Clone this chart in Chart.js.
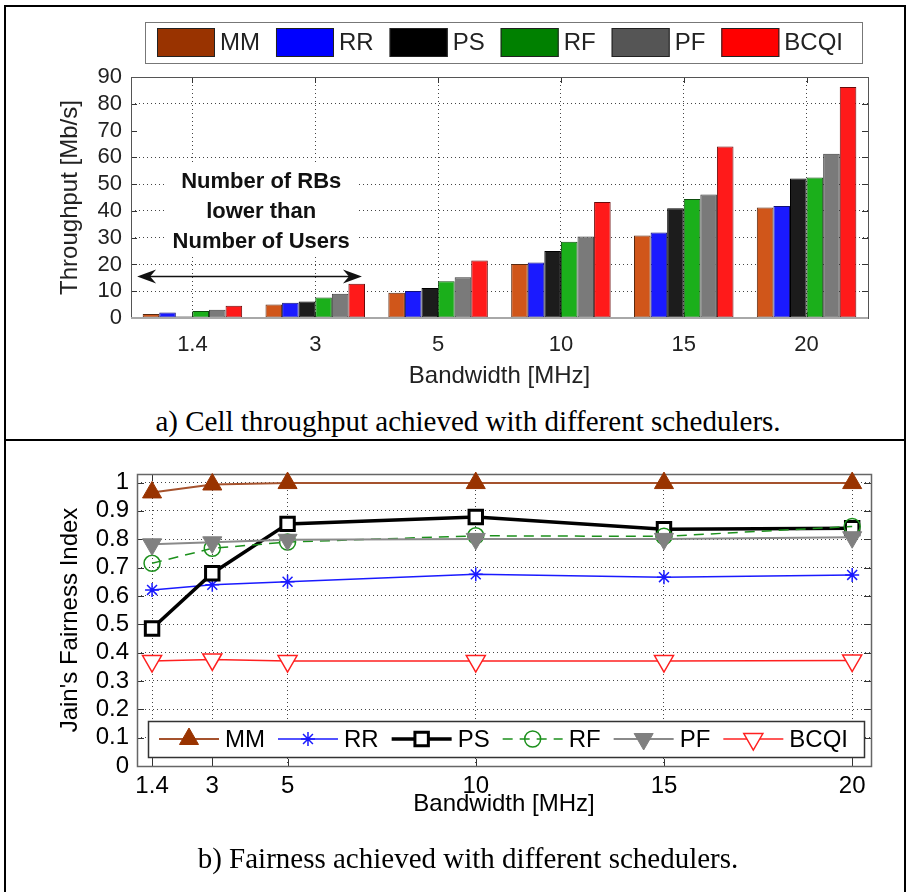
<!DOCTYPE html>
<html>
<head>
<meta charset="utf-8">
<title>Scheduler throughput and fairness</title>
<script src="https://cdn.jsdelivr.net/npm/chart.js@4.4.1/dist/chart.umd.min.js"></script>
<style>
  body { margin: 0; background: #fff; width: 914px; height: 892px; overflow: hidden; position: relative; }
  .frame { position: absolute; left: 4px; top: 5px; width: 902px; height: 900px; border: 2px solid #000; border-bottom: 0; box-sizing: border-box; }
  .divider { position: absolute; left: 4px; top: 439px; width: 902px; height: 2px; background: #000; }
  canvas { position: absolute; left: 0; }
  #throughput { top: 0; }
  #fairness { top: 445px; }
  .caption { position: absolute; left: 0; width: 936px; text-align: center; font-family: 'Liberation Serif', 'Times New Roman', serif; font-size: 29px; color: #000; line-height: 34px; }
</style>
</head>
<body>
<div class="frame"></div>
<div class="divider"></div>
<canvas id="throughput" width="914" height="400"></canvas>
<div class="caption" style="top:404px">a) Cell throughput achieved with different schedulers.</div>
<canvas id="fairness" width="914" height="447"></canvas>
<div class="caption" style="top:841px">b) Fairness achieved with different schedulers.</div>

<script>
const FONT = "'Liberation Sans', Arial, sans-serif";

// bandwidth settings [MHz]
const bandwidthLabels = ['1.4', '3', '5', '10', '15', '20'];
const bandwidthValues = [1.4, 3, 5, 10, 15, 20];
const schedulers = ['MM', 'RR', 'PS', 'RF', 'PF', 'BCQI'];

// cell throughput [Mb/s]
const mmThroughput   = [1.5, 5.0, 9.4, 20.2, 30.8, 41.3];
const rrThroughput   = [2.1, 5.7, 10.1, 20.7, 31.9, 41.8];
const psThroughput   = [0.6, 6.2, 11.2, 25.0, 41.0, 52.1];
const rfThroughput   = [2.6, 7.7, 13.7, 28.5, 44.4, 52.5];
const pfThroughput   = [3.1, 9.1, 15.2, 30.4, 46.1, 61.3];
const bcqiThroughput = [4.6, 12.8, 21.5, 43.3, 64.0, 86.3];
const throughputTicks = [0, 10, 20, 30, 40, 50, 60, 70, 80, 90];

// Jain's fairness index
const mmFairness   = [0.965, 0.993, 0.998, 0.998, 0.998, 0.998];
const rrFairness   = [0.621, 0.639, 0.650, 0.676, 0.666, 0.674];
const psFairness   = [0.485, 0.680, 0.854, 0.878, 0.835, 0.839];
const rfFairness   = [0.715, 0.768, 0.790, 0.812, 0.810, 0.845];
const pfFairness   = [0.782, 0.789, 0.798, 0.801, 0.801, 0.807];
const bcqiFairness = [0.370, 0.376, 0.370, 0.370, 0.370, 0.372];
const fairnessTicks = [0, 0.1, 0.2, 0.3, 0.4, 0.5, 0.6, 0.7, 0.8, 0.9, 1];

const noteLines = ['Number of RBs', 'lower than', 'Number of Users'];

// bar fills / legend swatches (the legend uses the pure palette)
const barColors    = ['#d0561a', '#1a1aff', '#1c1c1c', '#1baf1b', '#7a7a7a', '#ff1a1a'];
const barEdges     = ['#5a2a10', '#10107a', '#000000', '#0d4d0d', '#3a3a3a', '#6a0a0a'];
const swatchColors = ['#993300', '#0000ff', '#000000', '#008000', '#555555', '#ff0000'];

const dotted = '#444';

// box around the plot with MATLAB-style inward ticks
function frameTicks(opts) {
  return {
    id: 'frameTicks',
    beforeDatasetsDraw(chart) {
      const { ctx, chartArea: a, scales: { x, y } } = chart;
      ctx.save();
      ctx.strokeStyle = opts.tickColor;
      ctx.lineWidth = 1;
      ctx.beginPath();
      x.ticks.forEach((t, i) => {
        const px = Math.round(x.getPixelForTick(i)) + 0.5;
        ctx.moveTo(px, a.bottom); ctx.lineTo(px, a.bottom - opts.length);
        ctx.moveTo(px, a.top); ctx.lineTo(px, a.top + opts.length);
      });
      y.ticks.forEach((t, i) => {
        const py = Math.round(y.getPixelForTick(i)) + 0.5;
        ctx.moveTo(a.left, py); ctx.lineTo(a.left + opts.length, py);
        ctx.moveTo(a.right, py); ctx.lineTo(a.right - opts.length, py);
      });
      ctx.stroke();
      ctx.strokeStyle = opts.color;
      ctx.lineWidth = opts.width;
      ctx.strokeRect(Math.round(a.left) + 0.5, Math.round(a.top) + 0.5, Math.round(a.width), Math.round(a.height));
      ctx.restore();
    },
    afterDatasetsDraw(chart) {
      if (!opts.baseColor) return;
      const { ctx, chartArea: a } = chart;
      ctx.save();
      ctx.strokeStyle = opts.baseColor;
      ctx.lineWidth = 2;
      ctx.beginPath();
      ctx.moveTo(a.left, a.bottom); ctx.lineTo(a.right, a.bottom);
      ctx.stroke();
      ctx.restore();
    }
  };
}

// boxed legend drawn in one row
function boxLegend(cfg) {
  return {
    id: 'boxLegend',
    afterDraw(chart) {
      const { ctx } = chart;
      ctx.save();
      ctx.fillStyle = '#fff';
      ctx.fillRect(cfg.left, cfg.top, cfg.width, cfg.height);
      ctx.strokeStyle = cfg.borderColor;
      ctx.lineWidth = cfg.borderWidth;
      ctx.strokeRect(cfg.left + 0.5, cfg.top + 0.5, cfg.width, cfg.height);
      ctx.font = cfg.fontSize + 'px ' + FONT;
      ctx.textBaseline = 'middle';
      const cy = cfg.top + cfg.height / 2;
      let x = cfg.startX;
      chart.data.datasets.forEach((ds, i) => {
        if (cfg.kind === 'swatch') {
          ctx.fillStyle = swatchColors[i];
          ctx.fillRect(x, cy - cfg.sampleH / 2, cfg.sampleW, cfg.sampleH);
          ctx.strokeStyle = '#222';
          ctx.lineWidth = 1;
          ctx.strokeRect(x + 0.5, cy - cfg.sampleH / 2 + 0.5, cfg.sampleW - 1, cfg.sampleH - 1);
        } else {
          ctx.save();
          ctx.strokeStyle = ds.borderColor;
          ctx.lineWidth = ds.borderWidth;
          ctx.setLineDash(ds.borderDash || []);
          ctx.beginPath();
          ctx.moveTo(x, cy); ctx.lineTo(x + cfg.sampleW, cy);
          ctx.stroke();
          ctx.setLineDash([]);
          ctx.fillStyle = ds.pointBackgroundColor;
          ctx.strokeStyle = ds.pointBorderColor;
          ctx.lineWidth = ds.pointBorderWidth;
          Chart.helpers.drawPoint(ctx, {
            pointStyle: ds.pointStyle,
            rotation: ds.pointRotation || 0,
            radius: ds.pointRadius,
            borderWidth: ds.pointBorderWidth
          }, x + cfg.sampleW / 2, cy);
          ctx.restore();
        }
        const tx = x + cfg.sampleW + cfg.textGap;
        ctx.fillStyle = cfg.textColor;
        ctx.fillText(ds.label, tx, cy + 1);
        x = tx + ctx.measureText(ds.label).width + cfg.itemGap;
      });
      ctx.restore();
    }
  };
}

// note about the small bandwidths plus its double arrow
const rbNote = {
  id: 'rbNote',
  afterDatasetsDraw(chart) {
    const { ctx, scales: { x, y } } = chart;
    const cx = x.getPixelForValue(0.56);
    const top = y.getPixelForValue(50.7);
    ctx.save();
    ctx.font = 'bold 22px ' + FONT;
    const w = Math.max(...noteLines.map(t => ctx.measureText(t).width));
    ctx.fillStyle = '#fff';
    ctx.fillRect(cx - w / 2 - 8, top - 18, w + 16, 90);
    ctx.fillStyle = '#111';
    ctx.textAlign = 'center';
    ctx.textBaseline = 'middle';
    noteLines.forEach((t, i) => ctx.fillText(t, cx, top + i * 30));

    const ay = Math.round(y.getPixelForValue(15.8)) + 0.5;
    const x0 = x.getPixelForValue(-0.45);
    const x1 = x.getPixelForValue(1.38);
    ctx.strokeStyle = '#111';
    ctx.lineWidth = 1.5;
    ctx.beginPath();
    ctx.moveTo(x0 + 8, ay); ctx.lineTo(x1 - 8, ay);
    ctx.stroke();
    ctx.beginPath();
    ctx.moveTo(x0, ay); ctx.lineTo(x0 + 19, ay - 7); ctx.lineTo(x0 + 13, ay); ctx.lineTo(x0 + 19, ay + 7); ctx.closePath();
    ctx.moveTo(x1, ay); ctx.lineTo(x1 - 19, ay - 7); ctx.lineTo(x1 - 13, ay); ctx.lineTo(x1 - 19, ay + 7); ctx.closePath();
    ctx.fill();
    ctx.restore();
  }
};

// a) cell throughput bars
const throughputSeries = [mmThroughput, rrThroughput, psThroughput, rfThroughput, pfThroughput, bcqiThroughput];

new Chart(document.getElementById('throughput'), {
  type: 'bar',
  data: {
    labels: bandwidthLabels,
    datasets: schedulers.map((name, i) => ({
      label: name,
      data: throughputSeries[i],
      backgroundColor: barColors[i],
      borderColor: barEdges[i],
      borderWidth: 1,
      borderSkipped: false,
      barPercentage: 1,
      categoryPercentage: 0.81
    }))
  },
  options: {
    responsive: false,
    animation: false,
    layout: { padding: { top: 77, right: 46, bottom: 0, left: 0 } },
    plugins: { legend: { display: false }, tooltip: { enabled: false } },
    scales: {
      x: {
        grid: { color: dotted, lineWidth: 1, drawTicks: false, offset: false },
        border: { display: false, dash: [1, 3] },
        ticks: { font: { family: FONT, size: 22 }, color: '#222', padding: 14, maxRotation: 0, autoSkip: false },
        title: { display: true, text: 'Bandwidth [MHz]', font: { family: FONT, size: 24 }, color: '#222', padding: { top: 0, bottom: 9 } },
        afterFit: s => { s.height = 82; }
      },
      y: {
        min: 0,
        max: 90,
        afterBuildTicks: s => { s.ticks = throughputTicks.map(v => ({ value: v })); },
        grid: { color: c => (c.tick && c.tick.value === 70 ? 'rgba(0,0,0,0)' : dotted), lineWidth: 1, drawTicks: false },
        border: { display: false, dash: [1, 3] },
        ticks: { font: { family: FONT, size: 22 }, color: '#222', padding: 9, autoSkip: false },
        title: { display: true, text: 'Throughput [Mb/s]', font: { family: FONT, size: 24 }, color: '#222', padding: { top: 56, bottom: 0 } },
        afterFit: s => { s.width = 131; }
      }
    }
  },
  plugins: [
    frameTicks({ color: '#555', width: 1, tickColor: '#333', length: 6, baseColor: '#a8a8a8' }),
    rbNote,
    boxLegend({
      kind: 'swatch', left: 145, top: 22, width: 717, height: 41,
      startX: 157, sampleW: 58, sampleH: 29, textGap: 5, itemGap: 16,
      fontSize: 24, textColor: '#222', borderColor: '#777', borderWidth: 1
    })
  ]
});

// b) Jain's fairness lines
const fairnessSeries = [mmFairness, rrFairness, psFairness, rfFairness, pfFairness, bcqiFairness];
const lineLooks = [
  { borderColor: '#a5522d', borderWidth: 2,   pointStyle: 'triangle', pointRadius: 11, pointRotation: 0,   pointBackgroundColor: '#993300', pointBorderColor: '#993300', pointBorderWidth: 1 },
  { borderColor: '#1a1aff', borderWidth: 1.5, pointStyle: 'star',     pointRadius: 7,  pointRotation: 0,   pointBackgroundColor: '#1a1aff', pointBorderColor: '#1a1aff', pointBorderWidth: 1.5 },
  { borderColor: '#000000', borderWidth: 3.5, pointStyle: 'rect',     pointRadius: 9.5, pointRotation: 0,  pointBackgroundColor: '#ffffff', pointBorderColor: '#000000', pointBorderWidth: 3 },
  { borderColor: '#1c901c', borderWidth: 1.5, pointStyle: 'circle',   pointRadius: 8,  pointRotation: 0,   pointBackgroundColor: 'rgba(0,0,0,0)', pointBorderColor: '#1c901c', pointBorderWidth: 1.5, borderDash: [10, 7] },
  { borderColor: '#8a8a8a', borderWidth: 2,   pointStyle: 'triangle', pointRadius: 11, pointRotation: 180, pointBackgroundColor: '#808080', pointBorderColor: '#808080', pointBorderWidth: 1 },
  { borderColor: '#ff2020', borderWidth: 1.5, pointStyle: 'triangle', pointRadius: 11, pointRotation: 180, pointBackgroundColor: '#ffffff', pointBorderColor: '#ff2020', pointBorderWidth: 1.5 }
];

new Chart(document.getElementById('fairness'), {
  type: 'line',
  data: {
    datasets: schedulers.map((name, i) => Object.assign({
      label: name,
      data: bandwidthValues.map((bw, k) => ({ x: bw, y: fairnessSeries[i][k] })),
      tension: 0,
      clip: false,
      order: schedulers.length - i
    }, lineLooks[i]))
  },
  options: {
    responsive: false,
    animation: false,
    layout: { padding: { top: 29, right: 43, bottom: 67, left: 0 } },
    plugins: { legend: { display: false }, tooltip: { enabled: false } },
    scales: {
      x: {
        type: 'linear',
        min: 1,
        max: 20.5,
        afterBuildTicks: s => { s.ticks = bandwidthValues.map(v => ({ value: v })); },
        grid: { color: dotted, lineWidth: 1, drawTicks: false },
        border: { display: false, dash: [1, 3] },
        ticks: { font: { family: FONT, size: 24 }, color: '#000', padding: 6, autoSkip: false, maxRotation: 0, callback: v => String(v) },
        title: { display: true, text: 'Bandwidth [MHz]', font: { family: FONT, size: 24 }, color: '#000', padding: { top: 0, bottom: 6 } },
        afterFit: s => { s.height = 59; }
      },
      y: {
        min: 0,
        max: 1.03,
        afterBuildTicks: s => { s.ticks = fairnessTicks.map(v => ({ value: v })); },
        grid: { color: dotted, lineWidth: 1, drawTicks: false },
        border: { display: false, dash: [1, 3] },
        ticks: { font: { family: FONT, size: 24 }, color: '#000', padding: 8, autoSkip: false, callback: v => String(+v.toFixed(1)) },
        title: { display: true, text: "Jain's Fairness Index", font: { family: FONT, size: 24 }, color: '#000', padding: { top: 56, bottom: 0 } },
        afterFit: s => { s.width = 137; }
      }
    }
  },
  plugins: [
    frameTicks({ color: '#666', width: 1.5, tickColor: '#333', length: 7 }),
    boxLegend({
      kind: 'line', left: 148, top: 276, width: 716, height: 36,
      startX: 159, sampleW: 60, sampleH: 0, textGap: 6, itemGap: 13,
      fontSize: 24, textColor: '#000', borderColor: '#333', borderWidth: 1.5
    })
  ]
});
</script>
</body>
</html>
